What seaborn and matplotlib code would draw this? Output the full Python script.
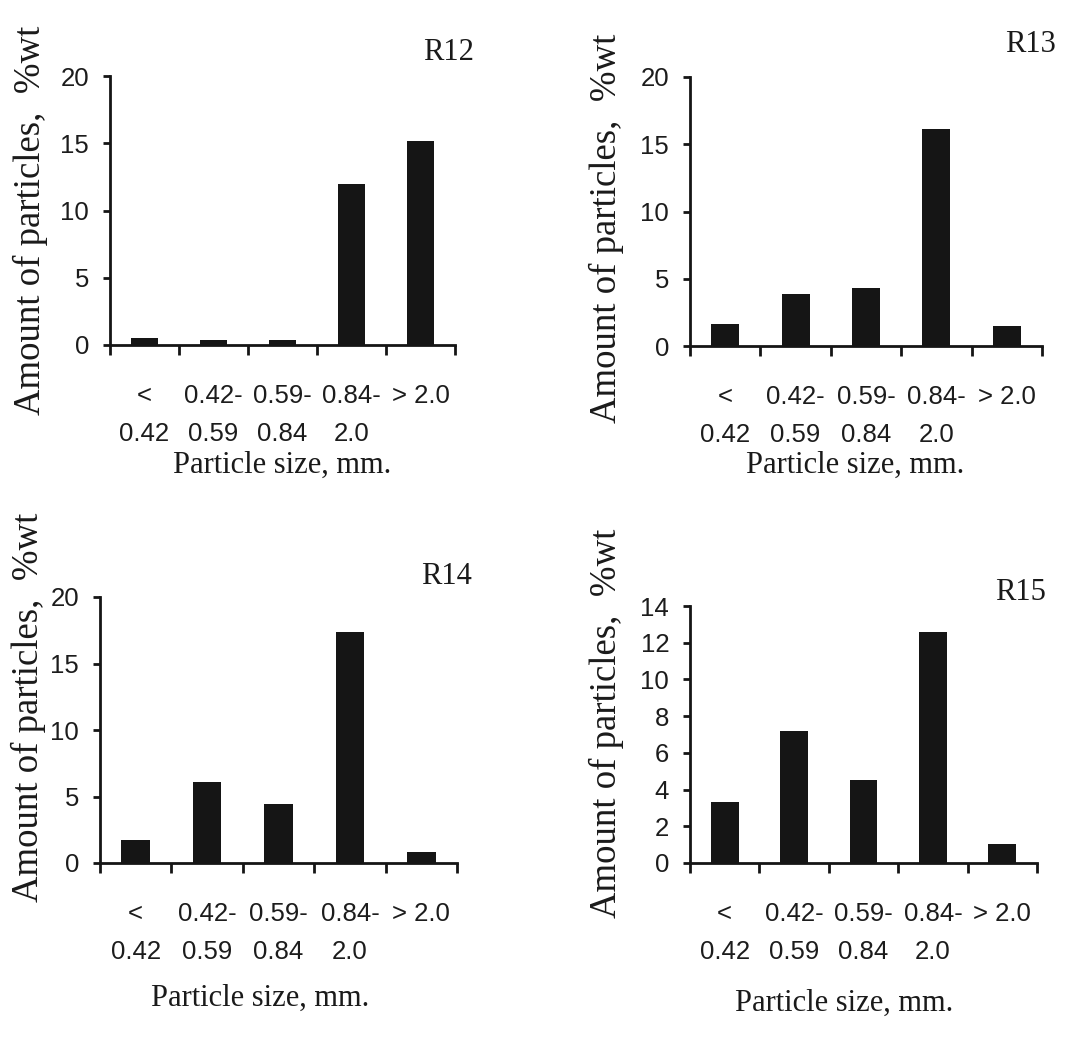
import numpy as np
import pandas as pd
import seaborn as sns
import matplotlib.pyplot as plt

# ---- data ----
size_labels = ["<\n0.42", "0.42-\n0.59", "0.59-\n0.84", "0.84-\n2.0", "> 2.0"]
panel_names = ["R12", "R13", "R14", "R15"]
r12_values = [0.5, 0.4, 0.35, 12.0, 15.2]
r13_values = [1.6, 3.9, 4.3, 16.1, 1.5]
r14_values = [1.75, 6.1, 4.4, 17.4, 0.8]
r15_values = [3.3, 7.2, 4.5, 12.6, 1.05]
yticks_20 = [0, 5, 10, 15, 20]
yticks_14 = [0, 2, 4, 6, 8, 10, 12, 14]

sns.set_theme(style="white")
plt.rcParams["font.family"] = ["Liberation Serif", "DejaVu Serif"]
tick_font = ["Liberation Sans", "DejaVu Sans"]

W, H = 1070, 1046
fig = plt.figure(figsize=(W / 100, H / 100), dpi=100)
fig.patch.set_facecolor("white")

# layout in pixels: axes box (left, top, right, bottom), title centre, xlabel centre, ylabel centre
layout = {
    "R12": dict(box=(110, 76, 455, 345), title=(448, 52), xlab=(282, 465), ylab=(30, 220)),
    "R13": dict(box=(690, 77, 1042, 346), title=(1031, 45), xlab=(855, 465), ylab=(606, 228)),
    "R14": dict(box=(100, 597, 457, 863), title=(446, 577), xlab=(260, 998), ylab=(28, 707)),
    "R15": dict(box=(690, 606, 1037, 863), title=(1021, 592), xlab=(844, 1003), ylab=(606, 723)),
}
values = {"R12": r12_values, "R13": r13_values, "R14": r14_values, "R15": r15_values}
yticks = {"R12": yticks_20, "R13": yticks_20, "R14": yticks_20, "R15": yticks_14}

ink = "#151515"

for name in panel_names:
    l, t, r, b = layout[name]["box"]
    ax = fig.add_axes([l / W, 1 - b / H, (r - l) / W, (b - t) / H])
    ax.set_facecolor("none")

    def to_ax(px, py):
        return (px - l) / (r - l), (b - py) / (b - t)

    df = pd.DataFrame({"size": size_labels, "amount": values[name]})
    sns.barplot(data=df, x="size", y="amount", ax=ax, color=ink,
                saturation=1, width=0.4, edgecolor="none", linewidth=0)

    yt = yticks[name]
    ax.set_xlim(-0.5, 4.5)
    ax.set_ylim(0, yt[-1])

    # boundary ticks (marks only) and centred category labels
    ax.set_xticks(np.arange(-0.5, 5.0, 1.0), [""] * 6)
    ax.set_xticks(range(5), size_labels, minor=True, fontsize=18.5,
                  family=tick_font, linespacing=1.72, color="#1c1c1c")
    ax.tick_params(axis="x", which="major", direction="out", length=7,
                   width=2, color=ink, bottom=True)
    ax.tick_params(axis="x", which="minor", length=0, pad=28, bottom=True)

    ax.set_yticks(yt, [str(v) for v in yt], fontsize=18.5, family=tick_font,
                  color="#1c1c1c")
    ax.tick_params(axis="y", direction="out", length=5, width=2,
                   color=ink, pad=10, left=True)

    sns.despine(ax=ax)
    for s in ("left", "bottom"):
        ax.spines[s].set_linewidth(2)
        ax.spines[s].set_color(ink)

    ax.set_xlabel("Particle size, mm.", fontsize=22, color="#1a1a1a")
    ax.xaxis.set_label_coords(*to_ax(*layout[name]["xlab"]))
    ax.xaxis.label.set_va("center")

    ax.set_ylabel("Amount of particles,  %wt", fontsize=26.5, color="#1a1a1a")
    ax.yaxis.set_label_coords(*to_ax(*layout[name]["ylab"]))
    ax.yaxis.label.set_va("center")
    ax.yaxis.label.set_ha("center")

    tx, ty = to_ax(*layout[name]["title"])
    ax.text(tx, ty, name, transform=ax.transAxes, ha="center", va="center",
            fontsize=22, color="#1a1a1a", clip_on=False)

fig.savefig("out.png", dpi=100, facecolor="white")
